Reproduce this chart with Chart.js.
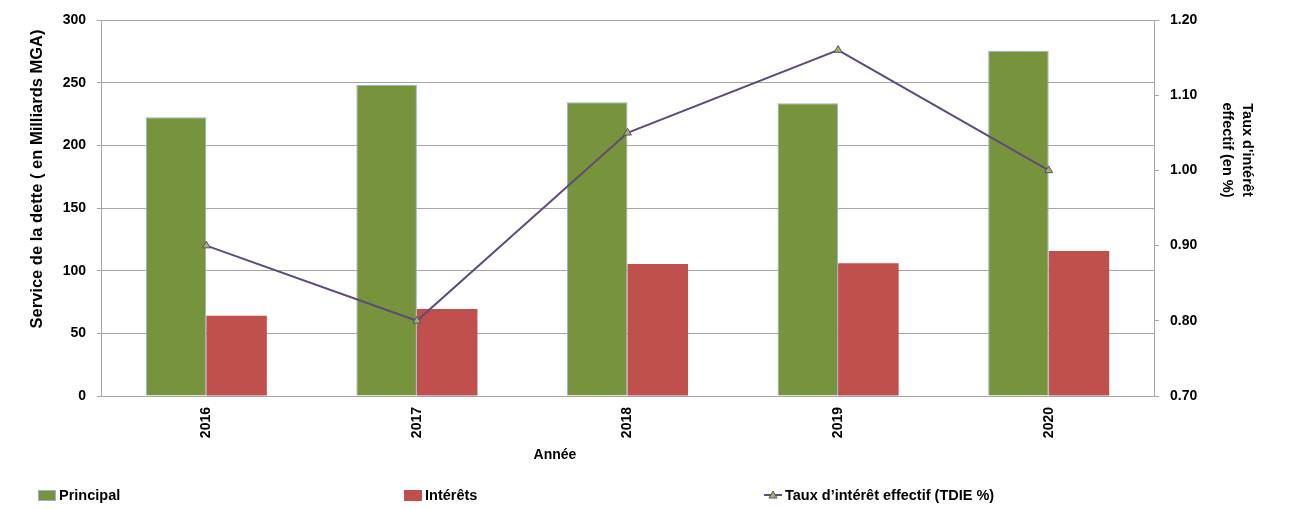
<!DOCTYPE html>
<html>
<head>
<meta charset="utf-8">
<script src="https://cdn.jsdelivr.net/npm/chart.js"></script>
<style>
  html, body { margin: 0; padding: 0; background: #fff; }
  #wrap { width: 1290px; height: 509px; position: relative; }
</style>
</head>
<body>
<div id="wrap"><canvas id="myChart"></canvas></div>
<script>
const years = ['2016', '2017', '2018', '2019', '2020']
const principal = [222.4, 248.2, 234.4, 233.6, 275.5]
const interets = [64.1, 69.4, 105.3, 105.9, 115.6]
const tdie = [0.90, 0.80, 1.05, 1.16, 1.00]
const leftTicks = [0, 50, 100, 150, 200, 250, 300]
const rightTicks = [0.70, 0.80, 0.90, 1.00, 1.10, 1.20]

const green = '#77933C'
const red = '#C0504D'
const purple = '#604A7B'
const gridGray = '#A6A6A6'
const FONT = "'Liberation Sans', Arial, sans-serif"

Chart.defaults.font.family = FONT
Chart.defaults.font.weight = 'bold'
Chart.defaults.color = '#000'

// titles + legend placed where the original has them (not centred)
const decorations = {
    id: 'decorations',
    afterDraw(chart) {
        const ctx = chart.ctx
        const area = chart.chartArea
        ctx.save()
        ctx.fillStyle = '#000'
        ctx.textBaseline = 'middle'

        // left axis title
        ctx.font = 'bold 16.5px ' + FONT
        ctx.save()
        ctx.translate(37, area.top + 159)
        ctx.rotate(-Math.PI / 2)
        ctx.textAlign = 'center'
        ctx.fillText('Service de la dette ( en Milliards MGA)', 0, 0)
        ctx.restore()

        // right axis title
        ctx.font = 'bold 14.5px ' + FONT
        ctx.save()
        ctx.translate(1237, area.top + 130)
        ctx.rotate(Math.PI / 2)
        ctx.textAlign = 'center'
        ctx.fillText("Taux d'intérêt", 0, -10)
        ctx.fillText('effectif (en %)', 0, 10)
        ctx.restore()

        // x axis title
        ctx.font = 'bold 14px ' + FONT
        ctx.textAlign = 'center'
        ctx.fillText('Année', 555, 455)

        // legend
        const ly = 495
        ctx.font = 'bold 14.5px ' + FONT
        ctx.textAlign = 'left'
        const xs = [38, 404, 764]
        chart.data.datasets.forEach((ds, i) => {
            const x = xs[i]
            if (ds.type === 'line') {
                ctx.strokeStyle = ds.borderColor
                ctx.lineWidth = 2
                ctx.beginPath()
                ctx.moveTo(x, ly)
                ctx.lineTo(x + 18, ly)
                ctx.stroke()
                ctx.fillStyle = ds.pointBackgroundColor
                ctx.lineWidth = 1
                ctx.beginPath()
                ctx.moveTo(x + 9, ly - 4)
                ctx.lineTo(x + 13, ly + 3)
                ctx.lineTo(x + 5, ly + 3)
                ctx.closePath()
                ctx.fill()
                ctx.stroke()
            } else {
                ctx.fillStyle = ds.backgroundColor
                ctx.fillRect(x, ly - 5, 18, 11)
                if (ds.borderWidth) {
                    ctx.strokeStyle = ds.borderColor
                    ctx.lineWidth = 1
                    ctx.strokeRect(x + 0.5, ly - 4.5, 17, 10)
                }
            }
            ctx.fillStyle = '#000'
            ctx.fillText(ds.label, x + 21, ly + 1)
        })
        ctx.restore()
    }
}

new Chart('myChart', {
    type: 'bar',
    data: {
        labels: years,
        datasets: [{
            label: 'Principal',
            data: principal,
            backgroundColor: green,
            borderColor: '#95B3D7',
            borderWidth: 1,
            yAxisID: 'y',
            order: 1
        }, {
            label: 'Intérêts',
            data: interets,
            backgroundColor: red,
            borderWidth: 0,
            yAxisID: 'y',
            order: 1
        }, {
            type: 'line',
            label: 'Taux d’intérêt effectif (TDIE %)',
            data: tdie,
            borderColor: purple,
            borderWidth: 2,
            pointStyle: 'triangle',
            pointRadius: 4.5,
            pointBackgroundColor: '#9BBB59',
            pointBorderColor: purple,
            pointBorderWidth: 1,
            yAxisID: 'y1',
            order: 0
        }]
    },
    options: {
        responsive: true,
        maintainAspectRatio: false,
        animation: false,
        datasets: {
            bar: { categoryPercentage: 0.575, barPercentage: 1.0 }
        },
        layout: { padding: { top: 20, bottom: 39, left: 0, right: 0 } },
        plugins: {
            legend: { display: false },
            tooltip: { enabled: false }
        },
        scales: {
            x: {
                grid: { display: false },
                border: { display: false },
                ticks: {
                    minRotation: 90, maxRotation: 90,
                    padding: 3,
                    font: { size: 14, weight: 'bold' }
                },
                afterFit: s => { s.height = 74 }
            },
            y: {
                position: 'left',
                min: 0, max: 300,
                afterBuildTicks: s => { s.ticks = leftTicks.map(v => ({ value: v })) },
                grid: { color: gridGray, lineWidth: 1, tickLength: 4 },
                border: { color: gridGray, width: 1 },
                ticks: { padding: 11, font: { size: 14, weight: 'bold' } },
                afterFit: s => { s.width = 101 }
            },
            y1: {
                position: 'right',
                min: 0.7, max: 1.2,
                afterBuildTicks: s => { s.ticks = rightTicks.map(v => ({ value: v })) },
                grid: { drawOnChartArea: false, color: gridGray, tickLength: 5 },
                border: { color: gridGray, width: 1 },
                ticks: {
                    padding: 11,
                    font: { size: 14, weight: 'bold' },
                    callback: v => Number(v).toFixed(2)
                },
                afterFit: s => { s.width = 136 }
            }
        }
    },
    plugins: [decorations]
})
</script>
</body>
</html>
